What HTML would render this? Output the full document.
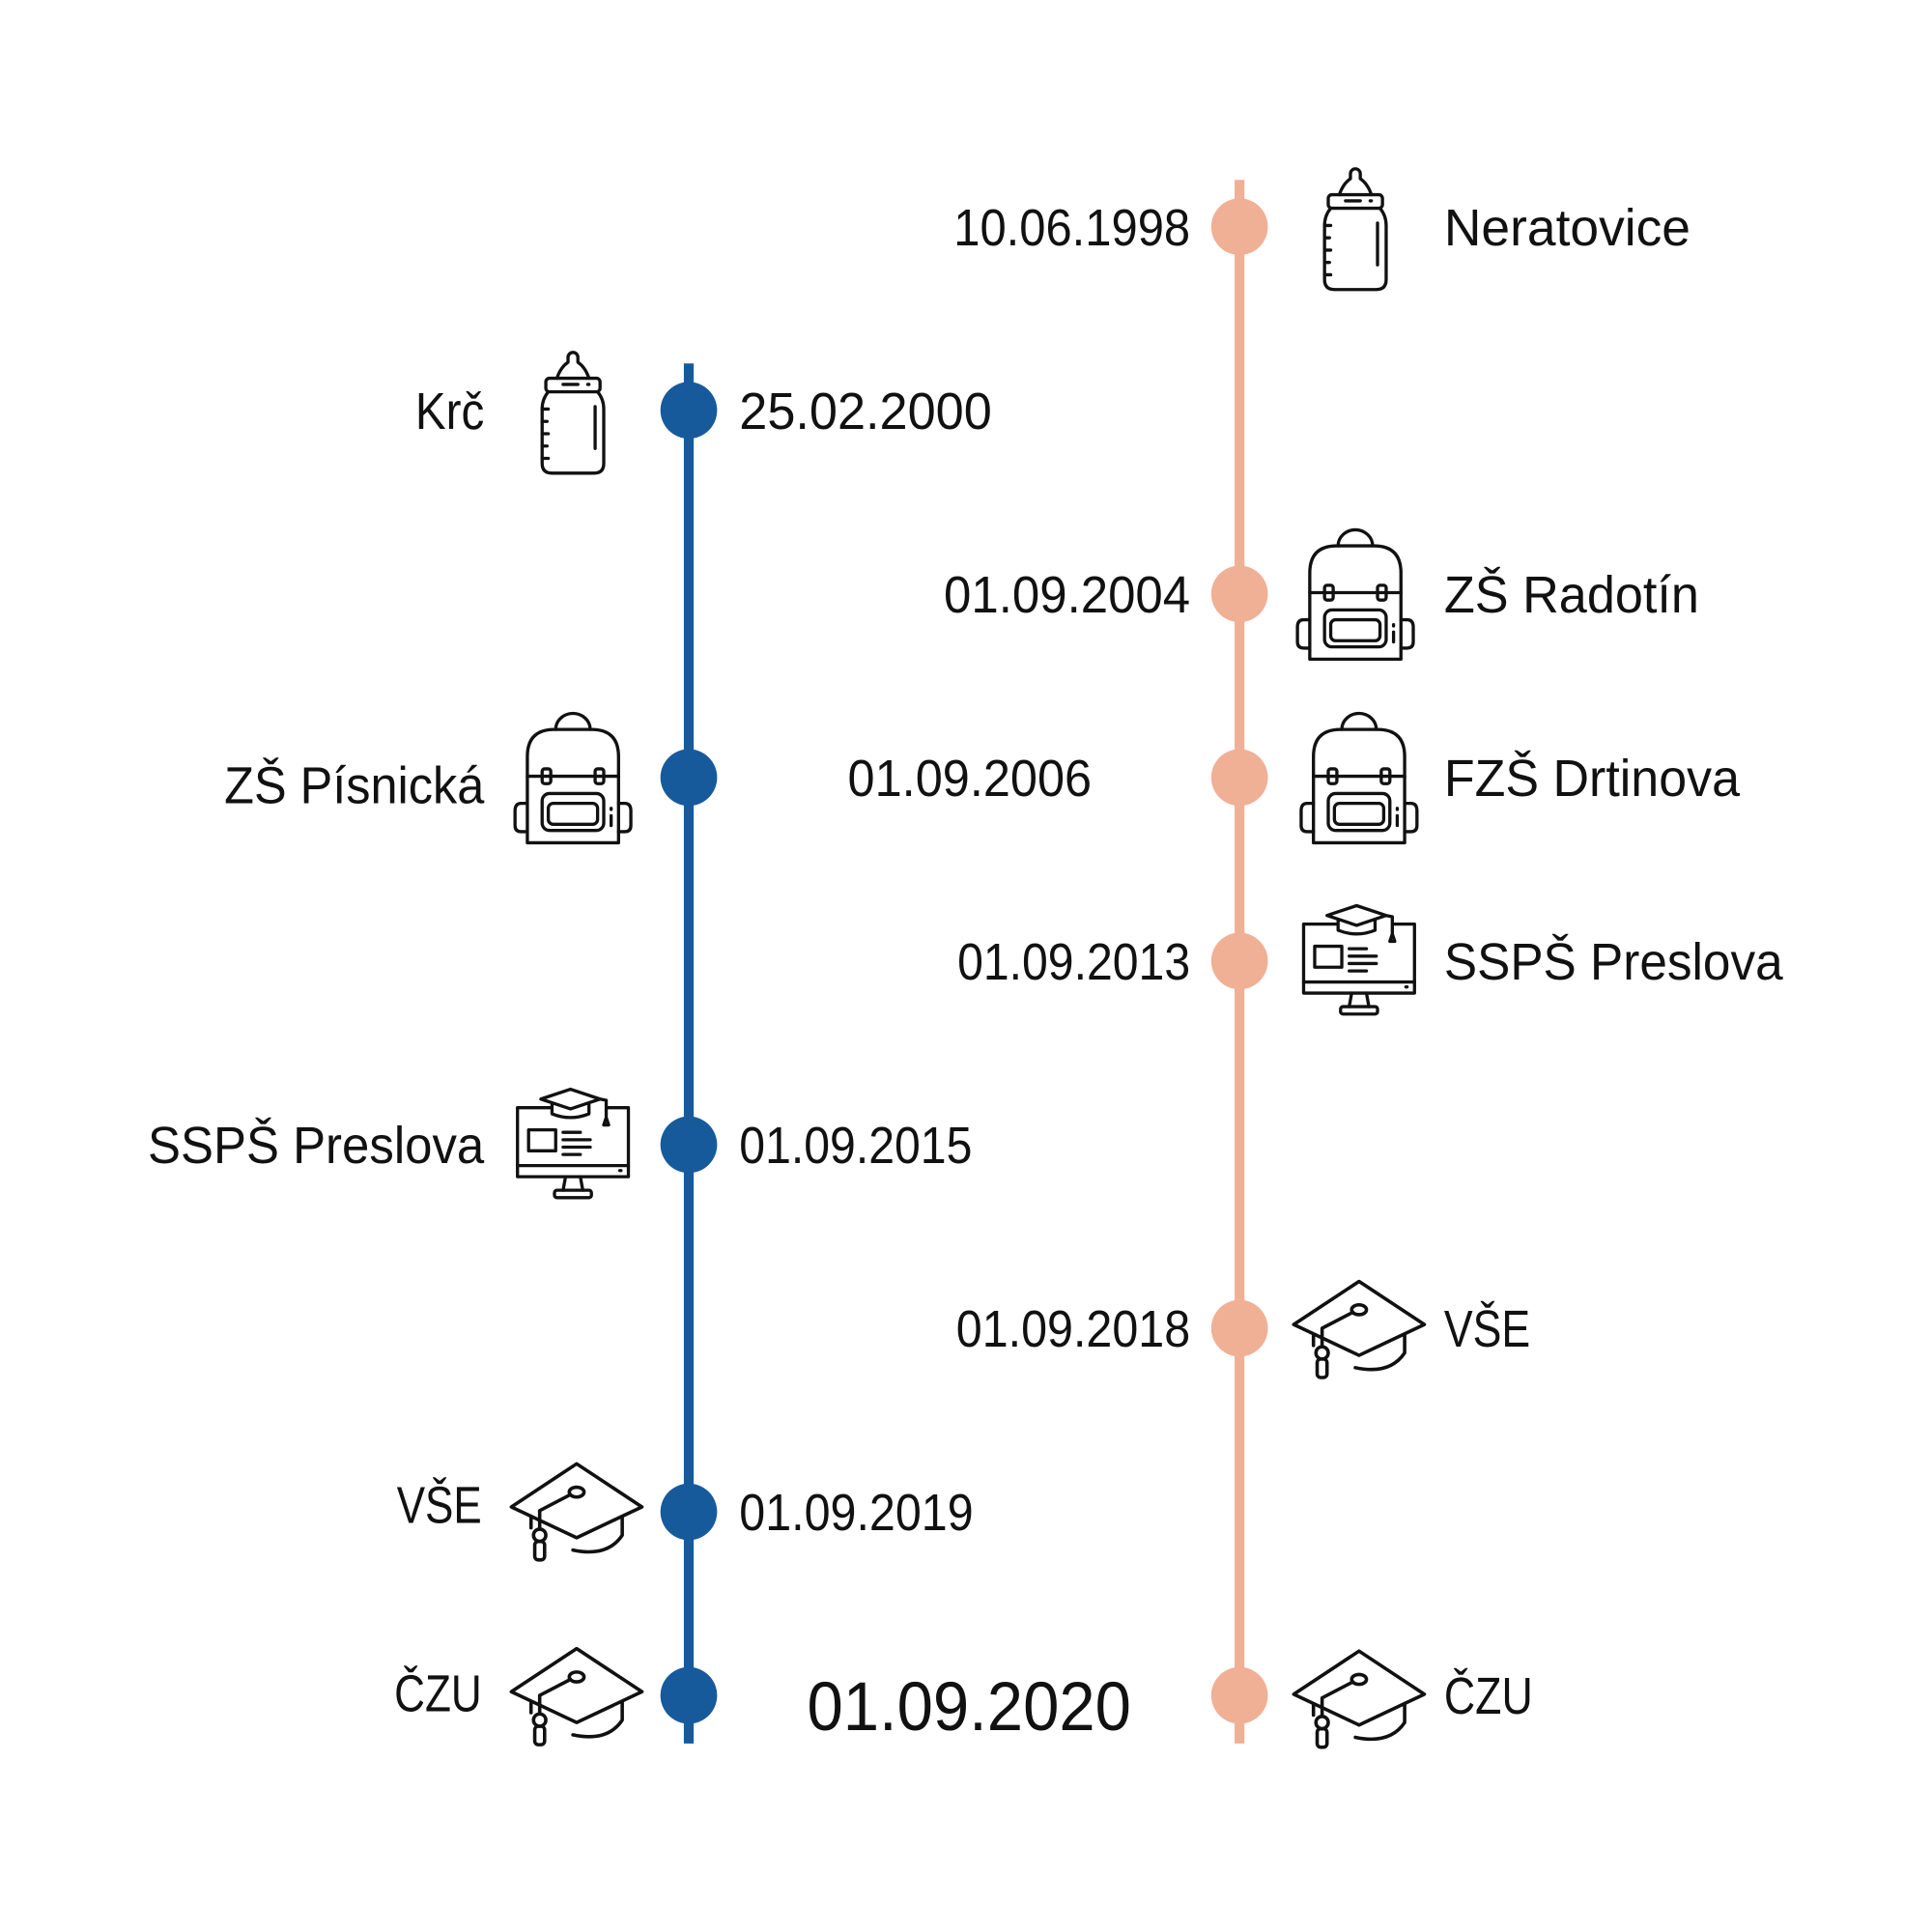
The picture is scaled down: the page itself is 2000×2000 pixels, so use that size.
<!DOCTYPE html>
<html><head><meta charset="utf-8"><style>html,body{margin:0;padding:0;background:#fff}svg{display:block}</style></head>
<body>
<svg width="2000" height="2000" viewBox="0 0 1568 1568" xmlns="http://www.w3.org/2000/svg" font-family="'Liberation Sans Narrow','Liberation Sans',sans-serif" font-size="42" fill="#111">
<defs>
<g id="bottle" fill="none" stroke="#111" stroke-width="2.6" stroke-linecap="round" stroke-linejoin="round">
 <path d="M-13,-27 Q-10,-36 -4,-40 L-4,-44 A4,4 0 0 1 4,-44 L4,-40 Q10,-36 13,-27"/>
 <rect x="-22" y="-27" width="44" height="11" rx="3"/>
 <path d="M-20,-16 Q-25,-10 -25,-2 L-25,42 Q-25,50 -17,50 L17,50 Q25,50 25,42 L25,-2 Q25,-10 20,-16"/>
 <path d="M-8,-22 L4,-22 M12,-22 L13,-22 M18,-4 L18,30 M-25,-2 L-20,-2 M-25,8 L-21,8 M-25,18 L-20,18 M-25,28 L-21,28 M-25,38 L-20,38"/>
</g>
<g id="pack" fill="none" stroke="#111" stroke-width="2.6" stroke-linecap="round" stroke-linejoin="round">
 <path d="M-14,-40 A14,13 0 0 1 14,-40"/>
 <path d="M-37,52 L-37,-18 Q-37,-40 -15,-40 L15,-40 Q37,-40 37,-18 L37,52 Z"/>
 <path d="M-37,-2 L37,-2"/>
 <rect x="-25" y="-8" width="7" height="12" rx="2"/><rect x="18" y="-8" width="7" height="12" rx="2"/>
 <path d="M-37,20 L-42,20 Q-47,20 -47,26 L-47,38 Q-47,43 -42,43 L-37,43 M37,20 L42,20 Q47,20 47,26 L47,38 Q47,43 42,43 L37,43"/>
 <rect x="-25" y="12" width="50" height="30" rx="6"/>
 <rect x="-20" y="20" width="40" height="17" rx="4"/>
 <path d="M31,30 L31,38 M31,24 L31,25"/>
</g>
<g id="mon" fill="none" stroke="#111" stroke-width="2.6" stroke-linecap="round" stroke-linejoin="round">
 <path d="M-18,-30 L-45,-30 L-45,26 L45,26 L45,-30 L28,-30"/>
 <path d="M-45,17 L45,17 M38,21 L39,21"/>
 <path d="M-6,26 L-8,37 M6,26 L8,37"/><rect x="-15" y="37" width="30" height="6" rx="2"/>
 <rect x="-36" y="-12" width="22" height="17"/>
 <path d="M-8,-10 L6,-10 M-8,-4 L14,-4 M-8,2 L14,2 M-8,8 L6,8"/>
 <path d="M-26,-37 L-2,-45 L22,-37 L-2,-29 Z M-17,-34 L-17,-25 Q-2,-19 13,-25 L13,-34 M22,-37 L27,-36 L27,-22 M25,-16 L29,-16 L27,-22 Z"/>
</g>
<g id="cap" fill="none" stroke="#111" stroke-width="2.8" stroke-linecap="round" stroke-linejoin="round">
 <path d="M-53,-3 L0,-38 L53,-3 L0,22 Z"/>
 <path d="M-37,5 L-37,14 M37,5 L37,20 Q25,38 -3,32"/>
 <ellipse cx="0" cy="-15" rx="6" ry="4"/>
 <path d="M-5,-13 L-30,0 L-30,15"/>
 <circle cx="-30" cy="20" r="5"/>
 <rect x="-34" y="25" width="8" height="15" rx="3"/>
</g>
</defs>
<line x1="559" y1="295" x2="559" y2="1415" stroke="#175a9c" stroke-width="8"/>
<line x1="1006" y1="146" x2="1006" y2="1415" stroke="#efb096" stroke-width="8"/>
<g fill="#175a9c"><circle cx="559" cy="333" r="23"/><circle cx="559" cy="631" r="23"/><circle cx="559" cy="929" r="23"/><circle cx="559" cy="1227" r="23"/><circle cx="559" cy="1376" r="23"/></g>
<g fill="#efb096"><circle cx="1006" cy="184" r="23"/><circle cx="1006" cy="482" r="23"/><circle cx="1006" cy="631" r="23"/><circle cx="1006" cy="780" r="23"/><circle cx="1006" cy="1078" r="23"/><circle cx="1006" cy="1376" r="23"/></g>
<use href="#bottle" x="1100" y="185"/><use href="#pack" x="1100" y="483"/><use href="#pack" x="1103" y="632"/><use href="#mon" x="1103" y="780"/><use href="#cap" x="1103" y="1078"/><use href="#cap" x="1103" y="1378"/>
<use href="#bottle" x="465" y="334"/><use href="#pack" x="465" y="632"/><use href="#mon" x="465" y="929"/><use href="#cap" x="468" y="1226"/><use href="#cap" x="468" y="1376"/>
<g>
<text x="774" y="199" textLength="192" lengthAdjust="spacingAndGlyphs">10.06.1998</text>
<text x="766" y="497" textLength="200" lengthAdjust="spacingAndGlyphs">01.09.2004</text>
<text x="688" y="646" textLength="198" lengthAdjust="spacingAndGlyphs">01.09.2006</text>
<text x="777" y="795" textLength="189" lengthAdjust="spacingAndGlyphs">01.09.2013</text>
<text x="776" y="1093" textLength="190" lengthAdjust="spacingAndGlyphs">01.09.2018</text>
<text x="655" y="1404" font-size="56" textLength="263" lengthAdjust="spacingAndGlyphs">01.09.2020</text>
<text x="600" y="348" textLength="205" lengthAdjust="spacingAndGlyphs">25.02.2000</text>
<text x="600" y="944" textLength="189" lengthAdjust="spacingAndGlyphs">01.09.2015</text>
<text x="600" y="1242" textLength="190" lengthAdjust="spacingAndGlyphs">01.09.2019</text>
<text x="1172" y="199" textLength="200" lengthAdjust="spacingAndGlyphs">Neratovice</text>
<text x="1172" y="497" textLength="207" lengthAdjust="spacingAndGlyphs">ZŠ Radotín</text>
<text x="1172" y="646" textLength="240" lengthAdjust="spacingAndGlyphs">FZŠ Drtinova</text>
<text x="1172" y="795" textLength="275" lengthAdjust="spacingAndGlyphs">SSPŠ Preslova</text>
<text x="1172" y="1093" textLength="70" lengthAdjust="spacingAndGlyphs">VŠE</text>
<text x="1172" y="1391" textLength="72" lengthAdjust="spacingAndGlyphs">ČZU</text>
<text x="337" y="348" textLength="56" lengthAdjust="spacingAndGlyphs">Krč</text>
<text x="182" y="652" textLength="211" lengthAdjust="spacingAndGlyphs">ZŠ Písnická</text>
<text x="120" y="944" textLength="273" lengthAdjust="spacingAndGlyphs">SSPŠ Preslova</text>
<text x="322" y="1236" textLength="69" lengthAdjust="spacingAndGlyphs">VŠE</text>
<text x="320" y="1389" textLength="71" lengthAdjust="spacingAndGlyphs">ČZU</text>
</g>
</svg>
</body></html>
